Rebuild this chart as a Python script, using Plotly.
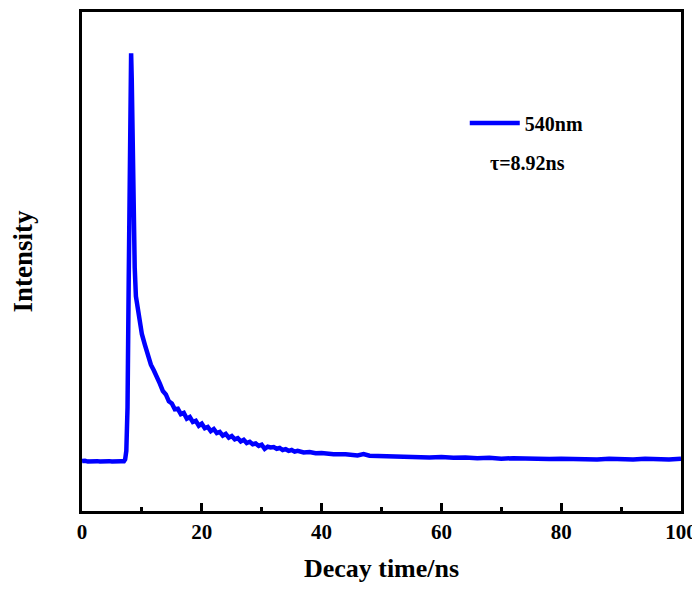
import plotly.graph_objects as go

# Decay time (ns)
time_ns = [0, 0.5, 1, 1.5, 2, 2.5, 3, 3.5, 4, 4.5, 5, 5.5, 6, 6.5, 7,
           7.2, 7.4, 7.6, 7.8, 8.0, 8.1, 8.2, 8.3, 8.4, 8.6, 8.8,
           9.0, 9.5, 10.0, 10.5, 11.0, 11.5, 12.0, 12.5, 13.0, 13.5, 14.0, 14.5,
           15.0, 15.5, 16.0, 16.5, 17.0, 17.5, 18.0, 18.5, 19.0, 19.5, 20.0, 20.5,
           21.0, 21.5, 22.0, 22.5, 23.0, 23.5, 24.0, 24.5, 25.0, 25.5, 26.0, 26.5,
           27.0, 27.5, 28.0, 28.5, 29.0, 29.5, 30.0, 30.5, 31.0, 31.5, 32.0, 32.5,
           33.0, 33.5, 34.0, 34.5, 35.0, 35.5, 36.0,
           37, 38, 39, 40, 42, 44, 46, 47, 48, 50, 52, 54, 56, 58, 60, 62, 64, 66,
           68, 70, 72, 74, 76, 78, 80, 82, 84, 86, 88, 90, 92, 94, 96, 98, 100]

# Intensity (a.u.)
intensity = [10, 11, 9, 10, 11, 10, 9, 10, 11, 10, 9, 10, 11, 10, 10,
             14, 35, 140, 450, 850, 980, 1000, 940, 800, 610, 480,
             410, 355, 318, 292, 266, 244, 230, 210, 198, 180, 172, 155,
             150, 136, 137, 124, 127, 113, 117, 105, 108, 96, 101, 90,
             93, 83, 88, 78, 81, 72, 76, 67, 71, 63, 66, 58,
             62, 54, 57, 51, 53, 47, 50, 40, 45, 43, 44, 40,
             42, 37, 39, 35, 37, 33, 35,
             31, 32, 29, 30, 27, 27, 24, 27, 23, 22, 22, 20, 21, 19, 20, 18, 19, 17,
             18, 16, 17, 16, 17, 15, 16, 15, 16, 14, 16, 15, 14, 16, 15, 14, 16]

series_name = "540nm"
lifetime_text = "τ=8.92ns"
x_ticks = [0, 20, 40, 60, 80, 100]

FONT = "Liberation Serif"

fig = go.Figure()
fig.add_trace(go.Scatter(
    x=time_ns, y=intensity, mode="lines", name=series_name,
    line=dict(color="#0000ff", width=4.5),
))

fig.update_layout(
    width=692, height=583,
    margin=dict(l=74, r=19, t=4, b=80, autoexpand=False),
    plot_bgcolor="white", paper_bgcolor="white",
    font=dict(family=FONT, color="black"),
    showlegend=True,
    legend=dict(x=0.639, y=(511 - 123) / 499, xanchor="left", yanchor="middle",
                itemwidth=50, bgcolor="rgba(0,0,0,0)",
                font=dict(family=FONT, size=20, color="black", weight="bold")),
    xaxis=dict(
        range=[0, 100], tickvals=x_ticks, ticktext=[str(v) for v in x_ticks],
        ticks="inside", ticklen=8, tickwidth=2.5, tickcolor="black",
        minor=dict(dtick=10, ticks="inside", ticklen=4, tickwidth=2.5, tickcolor="black"),
        showline=True, linewidth=3, linecolor="black", mirror=True,
        showgrid=False, zeroline=False, automargin=False,
        tickfont=dict(family=FONT, size=21, color="black", weight="bold"),
        title=dict(text="Decay time/ns", standoff=16,
                   font=dict(family=FONT, size=26, color="black", weight="bold")),
    ),
    yaxis=dict(
        range=[-111, 1100], showticklabels=False, ticks="",
        showline=True, linewidth=3, linecolor="black", mirror=True,
        showgrid=False, zeroline=False, automargin=False,
        title=dict(text="Intensity", standoff=47,
                   font=dict(family=FONT, size=27, color="black", weight="bold")),
    ),
)

fig.add_annotation(xref="paper", yref="paper", x=(488 - 82) / 599, y=(511 - 163) / 499,
                   xanchor="left", yanchor="middle", showarrow=False,
                   text=lifetime_text,
                   font=dict(family=FONT, size=20, color="black", weight="bold"))

fig.write_html("out.html")
